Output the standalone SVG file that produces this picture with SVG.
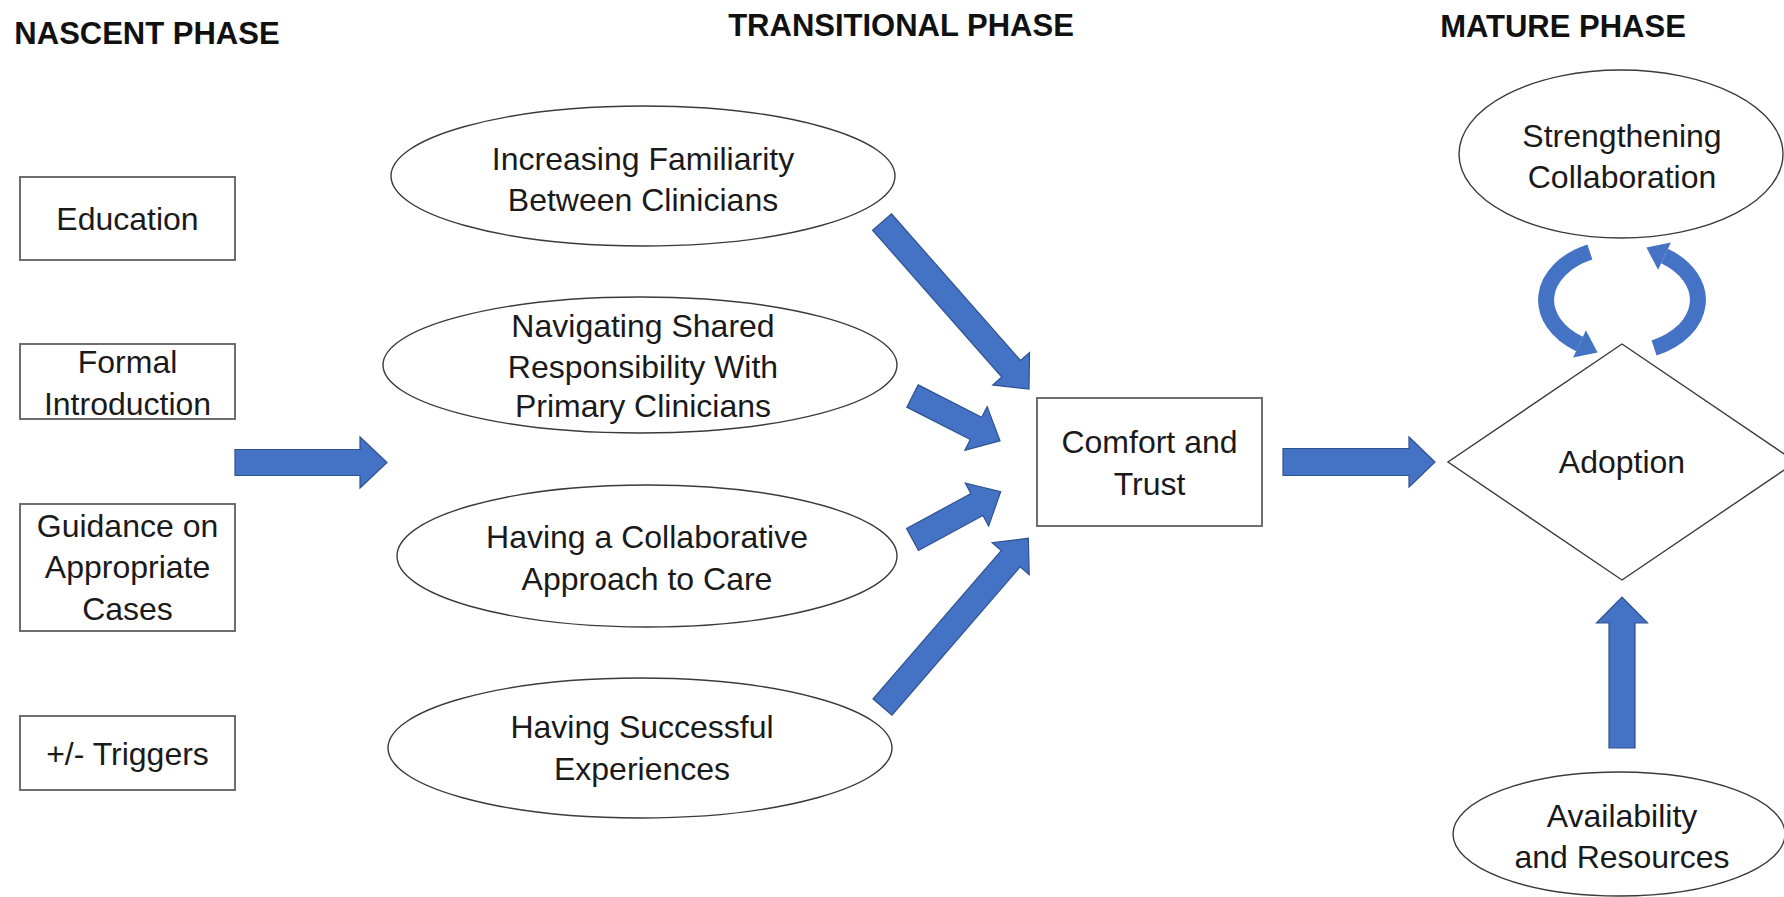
<svg xmlns="http://www.w3.org/2000/svg" xmlns:xlink="http://www.w3.org/1999/xlink" width="1784" height="897" viewBox="0 0 1784 897">
  <style>
    .t{font-family:"Liberation Sans",Arial,sans-serif;font-size:32px;fill:#1a1a1a;text-anchor:middle}
    .h{font-family:"Liberation Sans",Arial,sans-serif;font-size:31px;font-weight:bold;fill:#111;text-anchor:middle}
    .box{fill:#fff;stroke:#6e6e6e;stroke-width:2}
    .oval{fill:#fff;stroke:#3a3a3a;stroke-width:1.4}
    .blk{fill:#4472C4;stroke:#2F528F;stroke-width:1.2;stroke-linejoin:miter}
    .loop{fill:none;stroke:#4472C4;stroke-width:16}
    .loophead{fill:#4472C4}
  </style>
  <defs>
    <!-- one half of the reinforcing loop between Adoption and Strengthening Collaboration -->
    <g id="loopL">
      <path class="loop" d="M1589.9 252 A76 53 0 0 0 1579.5 343.9"/>
      <polygon class="loophead" points="1573.1,357.5 1585.9,330.3 1597.6,352.4"/>
    </g>
  </defs>

  <rect width="1784" height="897" fill="#fff"/>

  <!-- phase headings -->
  <g id="headings">
    <text class="h" x="147" y="44">NASCENT PHASE</text>
    <text class="h" x="901" y="36">TRANSITIONAL PHASE</text>
    <text class="h" x="1563" y="37">MATURE PHASE</text>
  </g>

  <!-- connectors -->
  <g id="connectors">
    <path class="blk" transform="translate(235,462.5)" d="M0,-13 H125 V-25.5 L152,0 L125,25.5 V13 H0 Z"/>
    <path class="blk" transform="translate(882,222) rotate(48.65)" d="M0,-12.5 H195.5 V-24.5 L222.5,0 L195.5,24.5 V12.5 H0 Z"/>
    <path class="blk" transform="translate(912.5,396) rotate(27.06)" d="M0,-12.5 H71.3 V-24.5 L98.3,0 L71.3,24.5 V12.5 H0 Z"/>
    <path class="blk" transform="translate(912.5,539.5) rotate(-28.45)" d="M0,-12.5 H73.3 V-24.5 L100.3,0 L73.3,24.5 V12.5 H0 Z"/>
    <path class="blk" transform="translate(882.5,707) rotate(-49.16)" d="M0,-12.5 H196 V-24.5 L223,0 L196,24.5 V12.5 H0 Z"/>
    <path class="blk" transform="translate(1283,462)" d="M0,-13.5 H126 V-25 L152,0 L126,25 V13.5 H0 Z"/>
    <path class="blk" transform="translate(1622,748) rotate(-90)" d="M0,-13 H125 V-25.5 L151,0 L125,25.5 V13 H0 Z"/>
    <use xlink:href="#loopL" href="#loopL"/>
    <use xlink:href="#loopL" href="#loopL" transform="rotate(180 1622 300)"/>
  </g>

  <!-- nascent phase -->
  <g id="education">
    <rect class="box" x="20" y="177" width="215" height="83"/>
    <text class="t" x="127.5" y="230">Education</text>
  </g>
  <g id="formal-introduction">
    <rect class="box" x="20" y="344" width="215" height="75"/>
    <text class="t" x="127.5" y="373">Formal</text>
    <text class="t" x="127.5" y="415">Introduction</text>
  </g>
  <g id="guidance">
    <rect class="box" x="20" y="504" width="215" height="127"/>
    <text class="t" x="127.5" y="537">Guidance on</text>
    <text class="t" x="127.5" y="578">Appropriate</text>
    <text class="t" x="127.5" y="620">Cases</text>
  </g>
  <g id="triggers">
    <rect class="box" x="20" y="716" width="215" height="74"/>
    <text class="t" x="127.5" y="765">+/- Triggers</text>
  </g>

  <!-- transitional phase -->
  <g id="familiarity">
    <ellipse class="oval" cx="643" cy="176" rx="252" ry="70"/>
    <text class="t" x="643" y="170">Increasing Familiarity</text>
    <text class="t" x="643" y="211">Between Clinicians</text>
  </g>
  <g id="shared-responsibility">
    <ellipse class="oval" cx="640" cy="365" rx="257" ry="68"/>
    <text class="t" x="643" y="337">Navigating Shared</text>
    <text class="t" x="643" y="378">Responsibility With</text>
    <text class="t" x="643" y="417">Primary Clinicians</text>
  </g>
  <g id="collaborative-approach">
    <ellipse class="oval" cx="647" cy="556" rx="250" ry="71"/>
    <text class="t" x="647" y="548">Having a Collaborative</text>
    <text class="t" x="647" y="590">Approach to Care</text>
  </g>
  <g id="successful-experiences">
    <ellipse class="oval" cx="640" cy="748" rx="252" ry="70"/>
    <text class="t" x="642" y="738">Having Successful</text>
    <text class="t" x="642" y="780">Experiences</text>
  </g>
  <g id="comfort-trust">
    <rect class="box" x="1037" y="398" width="225" height="128"/>
    <text class="t" x="1149.5" y="453">Comfort and</text>
    <text class="t" x="1149.5" y="495">Trust</text>
  </g>

  <!-- mature phase -->
  <g id="strengthening">
    <ellipse class="oval" cx="1621" cy="154" rx="162" ry="84"/>
    <text class="t" x="1622" y="147">Strengthening</text>
    <text class="t" x="1622" y="188">Collaboration</text>
  </g>
  <g id="adoption">
    <polygon class="oval" points="1622,344 1796,462 1622,580 1448,462"/>
    <text class="t" x="1622" y="473">Adoption</text>
  </g>
  <g id="availability">
    <ellipse class="oval" cx="1619" cy="834" rx="166" ry="62"/>
    <text class="t" x="1622" y="827">Availability</text>
    <text class="t" x="1622" y="868">and Resources</text>
  </g>
</svg>
